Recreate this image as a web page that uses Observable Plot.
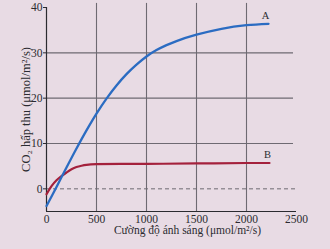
<!DOCTYPE html>
<html><head><meta charset="utf-8">
<script src="https://cdn.jsdelivr.net/npm/d3@7"></script>
<script src="https://cdn.jsdelivr.net/npm/@observablehq/plot@0.6"></script>
<style>
html,body{margin:0;padding:0;background:#e8dbe4;}
</style>
</head><body>
<div id="chart"></div>
<script>
const lightA = [0,100,200,300,400,500,600,700,800,900,1000,1100,1200,1300,1500,1750,2000,2220];
const co2A   = [-3.8,0.4,4.7,8.9,12.9,16.6,19.9,22.8,25.3,27.4,29.2,30.6,31.7,32.6,34.0,35.3,36.1,36.4];
const lightB = [0,50,100,150,200,250,300,350,400,500,1000,1500,2000,2230];
const co2B   = [-1.2,0.6,1.9,2.8,3.6,4.3,4.8,5.1,5.3,5.45,5.5,5.6,5.7,5.7];
const seriesLabels = ["A","B"];
const labelX = [2190,2210];
const labelY = [38.3,7.6];
const xTicks = [0,500,1000,1500,2000,2500];
const yTicks = [0,10,20,30,40];
const xGrid = [500,1000,1500,2000];
const yGrid = [10,20,30];

const A = lightA.map((x,i)=>({x,y:co2A[i]}));
const B = lightB.map((x,i)=>({x,y:co2B[i]}));
const labs = seriesLabels.map((t,i)=>({t,x:labelX[i],y:labelY[i]}));

const ink = "#2b2b30";
const grid = "#6e6a72";

const chart = Plot.plot({
  width: 330, height: 249,
  marginLeft: 46, marginRight: 34, marginTop: 7, marginBottom: 38,
  style: {background:"#e8dbe4", fontFamily:"'Liberation Serif', serif", fontSize:"11.5px", color: ink},
  x: {domain:[0,2500]},
  y: {domain:[-5,40]},
  marks: [
    Plot.ruleX(xGrid, {y1:-5, y2:40.9, stroke:grid, strokeWidth:1.1}),
    Plot.ruleY(yGrid, {x1:0, x2:2470, stroke:grid, strokeWidth:1.1}),
    Plot.ruleY([0], {x1:0, x2:2500, stroke:grid, strokeWidth:1, strokeDasharray:"4,3"}),
    Plot.ruleX([0], {y1:-5, y2:40, stroke:ink, strokeWidth:1.2}),
    Plot.ruleY([-5], {x1:0, x2:2500, stroke:ink, strokeWidth:1.2}),
    Plot.axisX({ticks:xTicks, tickFormat:"d", tickSize:0, tickPadding:3, label:null, fontSize:11.5}),
    Plot.axisY({ticks:yTicks, tickFormat:"d", tickSize:3, tickPadding:1, label:null, fontSize:11.5}),
    Plot.line(B, {x:"x", y:"y", stroke:"#a4213c", strokeWidth:2.2, curve:"catmull-rom"}),
    Plot.line(A, {x:"x", y:"y", stroke:"#2b6cc2", strokeWidth:2.3, curve:"catmull-rom"}),
    Plot.text(labs, {x:"x", y:"y", text:"t", fontSize:10.5, fill:ink}),
    Plot.text(["Cường độ ánh sáng (μmol/m²/s)"], {frameAnchor:"bottom", textAnchor:"middle", dy:22, dx:16, fontSize:11.5, fill:ink}),
    Plot.text(["CO₂ hấp thu (μmol/m²/s)"], {frameAnchor:"left", textAnchor:"middle", dx:-21, rotate:-90, fontSize:12.5, fill:ink})
  ]
});
document.getElementById("chart").appendChild(chart);
</script>
</body></html>
